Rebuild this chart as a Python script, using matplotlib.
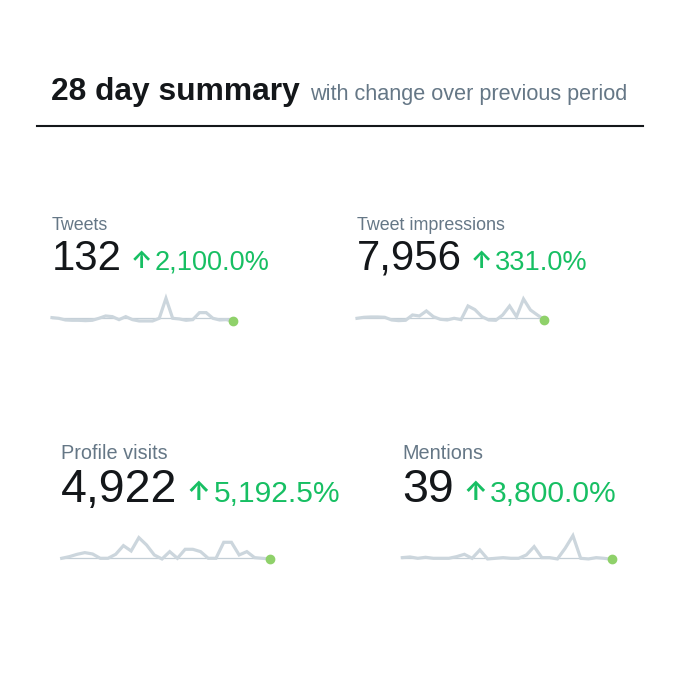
import matplotlib
matplotlib.use("Agg")
import matplotlib.pyplot as plt
from matplotlib.lines import Line2D

plt.rcParams["font.family"] = ["Liberation Sans", "DejaVu Sans"]

# ---------------- data ----------------
title = "28 day summary"
subtitle = "with change over previous period"
metric_names = ["Tweets", "Tweet impressions", "Profile visits", "Mentions"]
metric_totals = ["132", "7,956", "4,922", "39"]
metric_changes = ["2,100.0%", "331.0%", "5,192.5%", "3,800.0%"]

# daily trend over 28 days (relative to the reference line)
tweets_trend = [2, 0, -5, -6, -6, -7, -6, 0, 7, 5, -4, 5, -4, -8,
                -8, -8, 0, 60, 0, -2, -6, -4, 17, 17, 0, -5, -4, -9]
impressions_trend = [0, 3, 4, 4, 3, -5, -7, -6, 10, 7, 22, 5, -3, -5,
                     0, -4, 37, 26, 5, -5, -6, 10, 37, 5, 58, 25, 10, -4]
visits_trend = [0, 5, 12, 17, 13, 0, 0, 12, 38, 22, 62, 40, 10, -2,
                20, 0, 27, 27, 20, 0, 0, 48, 48, 10, 20, 2, 0, -2]
mentions_trend = [2, 4, 0, 3, 0, 0, 0, 5, 12, 0, 25, -2, 0, 2,
                  0, 0, 10, 35, 2, 2, -2, 30, 68, 0, -2, 2, 0, -3]
trends = [tweets_trend, impressions_trend, visits_trend, mentions_trend]

# ---------------- style / layout ----------------
DARK = "#14171a"
GRAY = "#657786"
GREEN = "#17bf63"
SPARK = "#ccd6dd"
BASE = "#c3ced6"
DOT = "#8fd16a"

W = H = 680
fig = plt.figure(figsize=(6.8, 6.8), dpi=100)
fig.patch.set_facecolor("white")


def fx(px):
    return px / W


def fy(py):
    return 1 - py / H


renderer = fig.canvas.get_renderer()

t = fig.text(fx(51), fy(100), title, fontsize=22.9, fontweight="bold",
             color=DARK, ha="left", va="baseline")
bb = t.get_window_extent(renderer)
fig.text(fx(bb.x1 + 10), fy(100), subtitle, fontsize=15.6, color=GRAY,
         ha="left", va="baseline")
fig.add_artist(Line2D([fx(37), fx(643)], [fy(125.5), fy(125.5)],
                      transform=fig.transFigure, color=DARK, lw=1.5))

layout = [
    dict(x=52, ly=230, ny=270, sx=(52, 233), sb=318.3, s=1.0),
    dict(x=357, ly=230, ny=270, sx=(357, 544.3), sb=318.3, s=1.0),
    dict(x=61, ly=459, ny=502, sx=(61.7, 270), sb=558.3, s=1.11),
    dict(x=402, ly=459, ny=502, sx=(402.3, 611.7), sb=558.3, s=1.11),
]

for name, total, change, trend, L in zip(metric_names, metric_totals,
                                         metric_changes, trends, layout):
    s = L["s"]
    fig.text(fx(L["x"]), fy(L["ly"]), name, fontsize=12.9 * s, color=GRAY,
             ha="left", va="baseline")
    tn = fig.text(fx(L["x"]), fy(L["ny"]), total, fontsize=30.2 * s,
                  color=DARK, ha="left", va="baseline")
    bn = tn.get_window_extent(renderer)
    ta = fig.text(fx(bn.x1 + 8.5 * s), fy(L["ny"] - 1.5 * s), "\u2191",
                  fontsize=17 * s, fontweight="bold", color=GREEN,
                  family=["Inter", "DejaVu Sans"],
                  ha="left", va="baseline")
    ba = ta.get_window_extent(renderer)
    fig.text(fx(ba.x1 + 3 * s), fy(L["ny"]), change, fontsize=19.5 * s,
             color=GREEN, ha="left", va="baseline")

    x0, x1 = L["sx"]
    ax = fig.add_axes([fx(x0), fy(L["sb"] + 20 / 3), fx(x1) - fx(x0), 30 / H])
    ax.set_xlim(0, len(trend) - 1)
    ax.set_ylim(-20, 70)
    ax.axis("off")
    ax.axhline(0, color=BASE, lw=0.9, zorder=1)
    ax.plot(range(len(trend)), trend, color=SPARK, lw=2.3, clip_on=False,
            zorder=2, solid_joinstyle="miter")
    ax.plot([len(trend) - 1], [trend[-1]], "o", ms=6, color=DOT,
            clip_on=False, zorder=3)

fig.savefig("out.png", dpi=100, facecolor="white")
